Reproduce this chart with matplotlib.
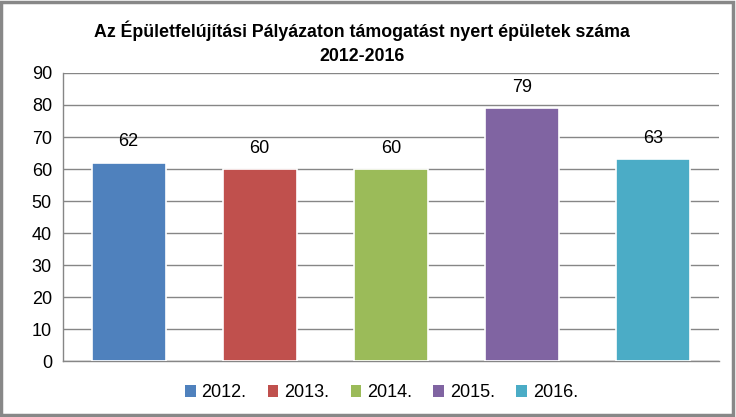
import matplotlib
matplotlib.use("Agg")
import matplotlib.pyplot as plt
from matplotlib.patches import Rectangle, Patch

plt.rcParams['font.family'] = ['Liberation Sans', 'DejaVu Sans']

evek = ['2012.', '2013.', '2014.', '2015.', '2016.']
ertekek = [62, 60, 60, 79, 63]
szinek = ['#4F81BD', '#C0504D', '#9BBB59', '#8064A2', '#4BACC6']
cim = 'Az Épületfelújítási Pályázaton támogatást nyert épületek száma\n2012-2016'

fig = plt.figure(figsize=(7.36, 4.17), dpi=100)
ax = fig.add_axes([0.0856, 0.134, 0.891, 0.691])

x = range(len(evek))
bars = ax.bar(x, ertekek, width=0.565, color=szinek, edgecolor='white', linewidth=1.2, zorder=3)
for b, v in zip(bars, ertekek):
    ax.annotate(str(v), (b.get_x() + b.get_width() / 2, v), xytext=(0, 9),
                textcoords='offset points', ha='center', va='bottom', fontsize=13)

ax.set_xlim(-0.5, len(evek) - 0.5)
ax.set_ylim(0, 90)
ax.set_yticks(range(0, 91, 10))
ax.set_xticks([])
ax.tick_params(axis='y', length=0, labelsize=13, pad=8)
ax.grid(axis='y', color='#868686', linewidth=1, zorder=0)
for s in ['top', 'right']:
    ax.spines[s].set_visible(False)
for s in ['left', 'bottom']:
    ax.spines[s].set_color('#868686')
    ax.spines[s].set_linewidth(1)

fig.text(0.492, 0.898, cim, ha='center', va='center', fontsize=12.8, fontweight='bold', linespacing=1.5)

handles = [Patch(facecolor=c, edgecolor='none') for c in szinek]
fig.legend(handles, evek, loc='center', bbox_to_anchor=(0.518, 0.058), ncol=5, frameon=False,
           fontsize=13, handlelength=0.6, handleheight=0.6, handletextpad=0.3, columnspacing=1.2)

fig.patches.append(Rectangle((0.002, 0.004), 0.994, 0.992, transform=fig.transFigure,
                             fill=False, edgecolor='#888888', linewidth=2.5))

fig.savefig('out.png', dpi=100)
